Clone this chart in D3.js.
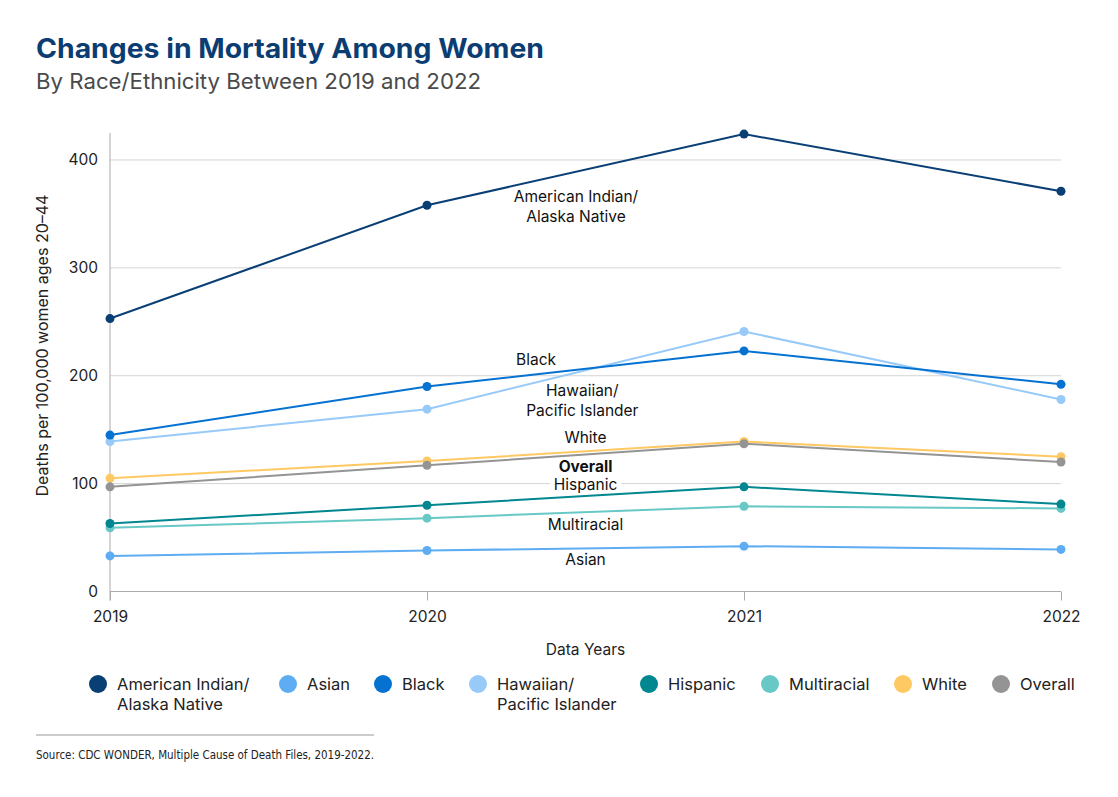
<!DOCTYPE html>
<html>
<head>
<meta charset="utf-8">
<script src="https://cdn.jsdelivr.net/npm/d3@7"></script>
<style>
  body { margin: 0; background: #fff; }
  svg { font-family: Inter, "Open Sans", sans-serif; }
</style>
</head>
<body>
<svg id="chart" width="1118" height="797"></svg>
<script>
// data
var years = [2019, 2020, 2021, 2022];
var seriesNames = ["American Indian/Alaska Native", "Asian", "Black", "Hawaiian/Pacific Islander", "Hispanic", "Multiracial", "White", "Overall"];
var aian = [253, 358, 424, 371];
var asian = [33, 38, 42, 39];
var black = [145, 190, 223, 192];
var hawaiian = [139, 169, 241, 178];
var hispanic = [63, 80, 97, 81];
var multiracial = [59, 68, 79, 77];
var white = [105, 121, 139, 125];
var overall = [97, 117, 137, 120];
var yTicks = [0, 100, 200, 300, 400];

var colors = {
    "American Indian/Alaska Native": "#0a3f75",
    "Asian": "#5eadf2",
    "Black": "#0572d1",
    "Hawaiian/Pacific Islander": "#98caf9",
    "Hispanic": "#00878f",
    "Multiracial": "#67c8c6",
    "White": "#fec962",
    "Overall": "#949494"
};

var values = [aian, asian, black, hawaiian, hispanic, multiracial, white, overall];
// draw order: back to front
var drawOrder = [5, 4, 1, 6, 7, 3, 2, 0];

// in-chart labels, anchored in data units (year, value of baseline)
var inlineLabels = [
    { lines: ["American Indian/", "Alaska Native"], x: 2020.47, y: [361, 342.5], bold: false },
    { lines: ["Black"], x: 2020.344, y: [209.5], bold: false },
    { lines: ["Hawaiian/", "Pacific Islander"], x: 2020.49, y: [181, 163], bold: false },
    { lines: ["White"], x: 2020.5, y: [138], bold: false },
    { lines: ["Overall"], x: 2020.5, y: [111], bold: true },
    { lines: ["Hispanic"], x: 2020.5, y: [94], bold: false, bg: true },
    { lines: ["Multiracial"], x: 2020.5, y: [57], bold: false },
    { lines: ["Asian"], x: 2020.5, y: [24.5], bold: false }
];

var svg = d3.select("#chart");

var x = d3.scaleLinear().domain([2019, 2022]).range([110, 1061]);
var y = d3.scaleLinear().domain([0, 425]).range([591.5, 133]);

// title
svg.append("text")
    .attr("x", 36).attr("y", 58)
    .attr("textLength", 508).attr("lengthAdjust", "spacingAndGlyphs")
    .style("font-size", "27px").style("font-weight", "700")
    .style("fill", "#0b3d72")
    .text("Changes in Mortality Among Women");
svg.append("text")
    .attr("x", 36).attr("y", 89)
    .attr("textLength", 445).attr("lengthAdjust", "spacingAndGlyphs")
    .style("font-size", "21.5px").style("fill", "#4a4a4a")
    .text("By Race/Ethnicity Between 2019 and 2022");

// gridlines
svg.append("g")
    .selectAll("line")
    .data(yTicks.slice(1))
    .join("line")
    .attr("x1", x(2019)).attr("x2", x(2022))
    .attr("y1", d => y(d)).attr("y2", d => y(d))
    .style("stroke", "#d4d4d4").style("stroke-width", 1);

// y axis
var yAxis = svg.append("g")
    .attr("transform", "translate(" + x(2019) + ",0)")
    .call(d3.axisLeft(y).tickValues(yTicks).tickSize(0).tickPadding(12));
yAxis.select(".domain").attr("d", "M0," + y(425) + "V" + (y(0) + 9)).style("stroke", "#ababab");
yAxis.selectAll("text").style("font-size", "15.5px").style("fill", "#222").style("font-family", "Inter, sans-serif");

// x axis
var xAxis = svg.append("g")
    .attr("transform", "translate(0," + y(0) + ")")
    .call(d3.axisBottom(x).tickValues(years).tickFormat(d3.format("d")).tickSize(9).tickPadding(10));
xAxis.select(".domain").attr("d", "M" + x(2019) + ",0H" + x(2022)).style("stroke", "#ababab");
xAxis.selectAll("line").style("stroke", "#ababab");
xAxis.selectAll("text").style("font-size", "15.5px").style("fill", "#222").style("font-family", "Inter, sans-serif");

// axis titles
svg.append("text")
    .attr("x", x(2020.5)).attr("y", 655)
    .attr("text-anchor", "middle")
    .style("font-size", "15.5px").style("fill", "#222")
    .text("Data Years");
svg.append("text")
    .attr("transform", "translate(48," + y(228) + ") rotate(-90)")
    .attr("text-anchor", "middle")
    .style("font-size", "16px").style("fill", "#222")
    .text("Deaths per 100,000 women ages 20–44");

// lines
var line = d3.line().x((d, i) => x(years[i])).y(d => y(d));
var plot = svg.append("g");
drawOrder.forEach(function (s) {
    var c = colors[seriesNames[s]];
    plot.append("path")
        .datum(values[s])
        .attr("d", line)
        .style("fill", "none").style("stroke", c).style("stroke-width", 2);
    plot.selectAll(null)
        .data(values[s])
        .join("circle")
        .attr("cx", (d, i) => x(years[i]))
        .attr("cy", d => y(d))
        .attr("r", 4.5)
        .style("fill", c);
});

// inline labels
var labels = svg.append("g");
inlineLabels.forEach(function (l) {
    l.lines.forEach(function (t, i) {
        var txt = labels.append("text")
            .attr("x", x(l.x)).attr("y", y(l.y[i]))
            .attr("text-anchor", "middle")
            .style("font-size", "15.5px")
            .style("font-weight", l.bold ? "700" : "400")
            .style("fill", "#111")
            .text(t);
        if (l.bg) {
            var bb = txt.node().getBBox();
            labels.insert("rect", function () { return txt.node(); })
                .attr("x", bb.x - 4).attr("y", bb.y + 2)
                .attr("width", bb.width + 8).attr("height", bb.height - 4)
                .style("fill", "#fff");
        }
    });
});

// legend
var legendX = [98, 288, 383, 478, 649, 770, 903, 1001];
var legendLabels = [["American Indian/", "Alaska Native"], ["Asian"], ["Black"], ["Hawaiian/", "Pacific Islander"], ["Hispanic"], ["Multiracial"], ["White"], ["Overall"]];
var legend = svg.append("g");
seriesNames.forEach(function (name, i) {
    var g = legend.append("g").attr("transform", "translate(" + legendX[i] + ",684)");
    g.append("circle").attr("r", 9).style("fill", colors[name]);
    legendLabels[i].forEach(function (t, j) {
        g.append("text")
            .attr("x", 19).attr("y", 5.5 + j * 20)
            .style("font-size", "16.5px").style("fill", "#222")
            .text(t);
    });
});

// source
svg.append("line")
    .attr("x1", 36).attr("x2", 374).attr("y1", 735).attr("y2", 735)
    .style("stroke", "#999").style("stroke-width", 1);
svg.append("text")
    .attr("x", 36).attr("y", 759)
    .attr("textLength", 338).attr("lengthAdjust", "spacingAndGlyphs")
    .style("font-family", "'Liberation Sans Narrow', 'DejaVu Sans Condensed', sans-serif")
    .style("font-size", "12.5px").style("fill", "#222")
    .text("Source: CDC WONDER, Multiple Cause of Death Files, 2019-2022.");
</script>
</body>
</html>
